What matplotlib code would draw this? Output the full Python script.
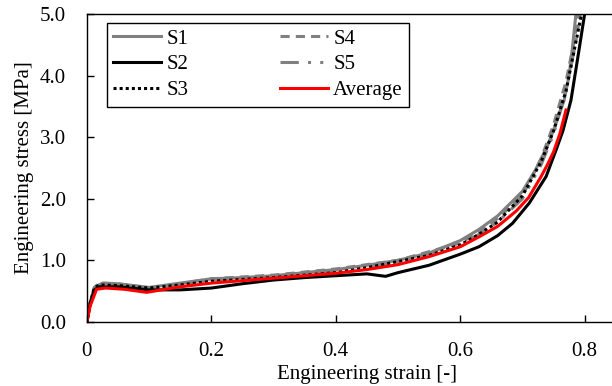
#!/usr/bin/env python3
# -*- coding: utf-8 -*-
"""
Engineering stress-strain curves (S1-S5 + average)
"""

import matplotlib
matplotlib.use("Agg")
import matplotlib.pyplot as plt

# data
s1_strain = [0, 0.005, 0.012, 0.025, 0.05, 0.10, 0.15, 0.20, 0.25, 0.30, 0.35, 0.40, 0.45,
             0.50, 0.55, 0.60, 0.63, 0.66, 0.68, 0.70, 0.72, 0.74, 0.755, 0.767, 0.775,
             0.78, 0.786, 0.792]
s1_stress = [0, 0.30, 0.56, 0.63, 0.62, 0.56, 0.63, 0.70, 0.72, 0.75, 0.80, 0.85, 0.92,
             1.00, 1.12, 1.32, 1.50, 1.72, 1.92, 2.12, 2.45, 2.85, 3.25, 3.60, 4.00,
             4.42, 5.00, 5.40]

s2_strain = [0, 0.005, 0.012, 0.02, 0.05, 0.10, 0.15, 0.20, 0.25, 0.30, 0.35, 0.40, 0.45,
             0.48, 0.50, 0.55, 0.60, 0.63, 0.66, 0.684, 0.711, 0.738, 0.754, 0.765,
             0.778, 0.791, 0.80, 0.805]
s2_stress = [0, 0.28, 0.52, 0.57, 0.57, 0.52, 0.52, 0.55, 0.62, 0.68, 0.72, 0.75, 0.78,
             0.74, 0.80, 0.92, 1.10, 1.22, 1.40, 1.60, 1.93, 2.36, 2.79, 3.10,
             3.60, 4.42, 5.00, 5.40]

s3_strain = [0, 0.005, 0.012, 0.02, 0.05, 0.10, 0.15, 0.20, 0.30, 0.40, 0.45, 0.50, 0.55,
             0.60, 0.63, 0.66, 0.70, 0.73, 0.75, 0.77, 0.785, 0.795, 0.80]
s3_stress = [0, 0.30, 0.55, 0.60, 0.59, 0.55, 0.60, 0.66, 0.72, 0.80, 0.88, 0.98, 1.08,
             1.25, 1.42, 1.62, 2.05, 2.60, 3.10, 3.75, 4.50, 5.00, 5.30]

s4_strain = [0, 0.005, 0.012, 0.02, 0.05, 0.10, 0.15, 0.20, 0.30, 0.40, 0.50, 0.60, 0.63,
             0.66, 0.70, 0.73, 0.75, 0.77, 0.782, 0.79, 0.795]
s4_stress = [0, 0.30, 0.56, 0.63, 0.62, 0.55, 0.62, 0.70, 0.76, 0.86, 1.00, 1.28, 1.46,
             1.68, 2.05, 2.65, 3.20, 3.90, 4.50, 5.00, 5.35]

s5_strain = [0, 0.005, 0.012, 0.02, 0.05, 0.10, 0.15, 0.20, 0.30, 0.40, 0.50, 0.60, 0.63,
             0.66, 0.70, 0.73, 0.75, 0.77, 0.785, 0.793, 0.798]
s5_stress = [0, 0.28, 0.54, 0.60, 0.59, 0.54, 0.61, 0.68, 0.74, 0.83, 0.97, 1.25, 1.42,
             1.62, 2.00, 2.55, 3.05, 3.75, 4.50, 5.00, 5.35]

avg_strain = [0, 0.005, 0.0155, 0.03, 0.06, 0.096, 0.15, 0.20, 0.25, 0.30, 0.35, 0.40,
              0.45, 0.50, 0.55, 0.60, 0.63, 0.66, 0.69, 0.71, 0.73, 0.74, 0.75, 0.76, 0.77]
avg_stress = [0, 0.25, 0.53, 0.55, 0.53, 0.48, 0.57, 0.63, 0.67, 0.71, 0.75, 0.79,
              0.85, 0.93, 1.06, 1.22, 1.38, 1.55, 1.80, 2.02, 2.36, 2.55, 2.76, 3.05, 3.44]

x_ticks = [0, 0.2, 0.4, 0.6, 0.8]
x_tick_labels = ["0", "0.2", "0.4", "0.6", "0.8"]
y_ticks = [0, 1, 2, 3, 4, 5]
y_tick_labels = ["0.0", "1.0", "2.0", "3.0", "4.0", "5.0"]

plt.rcParams['font.family'] = ['Liberation Serif', 'DejaVu Serif']
FS = 15

fig = plt.figure(figsize=(6.12, 3.86), dpi=100)
ax = fig.add_axes([0.142, 0.166, 0.915, 0.798])

GRAY = '#808080'
lw = 2.2
ax.plot(s1_strain, s1_stress, color=GRAY, lw=lw, ls='-', label='S1')
ax.plot(s4_strain, s4_stress, color=GRAY, lw=lw, ls=(0, (3, 2)), label='S4')
ax.plot(s5_strain, s5_stress, color=GRAY, lw=lw, ls=(0, (6, 3, 1, 3, 1, 3)), label='S5')
ax.plot(s2_strain, s2_stress, color='black', lw=lw, ls='-', label='S2')
ax.plot(s3_strain, s3_stress, color='black', lw=lw, ls=(0, (1, 1)), label='S3')
ax.plot(avg_strain, avg_stress, color='#FF0000', lw=lw, ls='-', label='Average')

ax.set_xlim(0, 0.9)
ax.set_ylim(0, 5)
ax.set_xticks(x_ticks)
ax.set_xticklabels(x_tick_labels, fontsize=FS)
ax.set_yticks(y_ticks)
ax.set_yticklabels(y_tick_labels, fontsize=FS)
ax.tick_params(direction='in', length=5, width=1)
ax.tick_params(axis='x', pad=14.5)
ax.tick_params(axis='y', pad=15)
ax.spines['right'].set_visible(False)
for sp in ['left', 'bottom', 'top']:
    ax.spines[sp].set_linewidth(1.0)

ax.set_xlabel('Engineering strain [-]', fontsize=FS, labelpad=3)
ax.set_ylabel('Engineering stress [MPa]', fontsize=FS, labelpad=4)

# legend in the order of the reference: S1,S2,S3 | S4,S5,Average
handles, labels = ax.get_legend_handles_labels()
order = ['S1', 'S2', 'S3', 'S4', 'S5', 'Average']
hmap = dict(zip(labels, handles))
leg = ax.legend([hmap[k] for k in order], order, ncol=2, loc='upper left',
                bbox_to_anchor=(0.036, 0.971), borderaxespad=0, fontsize=FS,
                fancybox=False, edgecolor='black', framealpha=1,
                handlelength=2.3, handletextpad=0.25, columnspacing=4.4,
                labelspacing=0.3, borderpad=0.3)
leg.get_frame().set_linewidth(1.0)

plt.savefig('out.png', dpi=100)
plt.close()
